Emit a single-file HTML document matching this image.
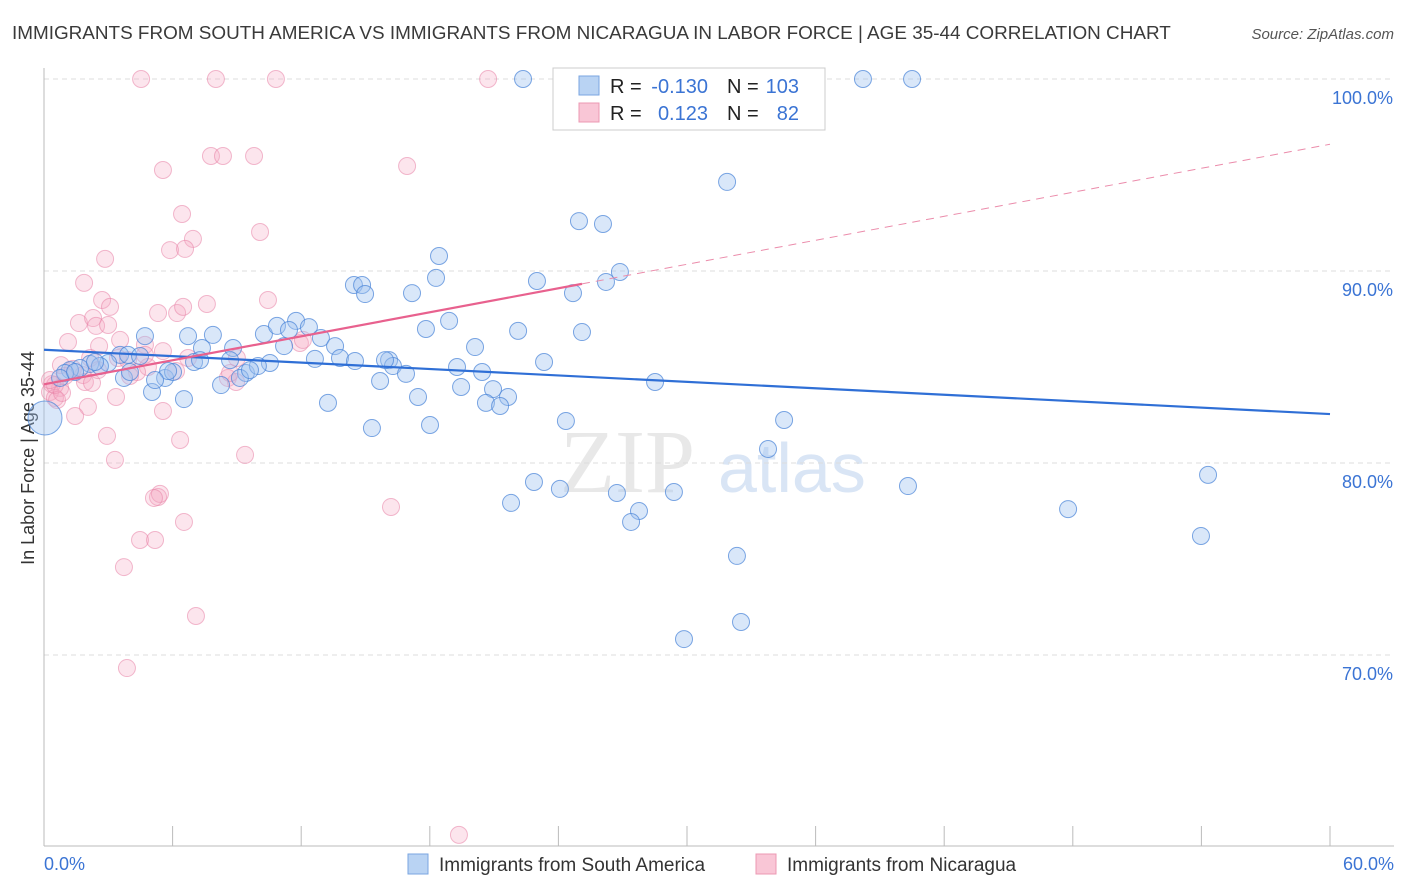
<!DOCTYPE html>
<html><head><meta charset="utf-8"><style>
body{margin:0;background:#fff;font-family:"Liberation Sans",sans-serif;}
#w{position:relative;width:1406px;height:892px;overflow:hidden;}
</style></head><body>
<div id="w">
<svg id="s" width="1406" height="892" style="position:absolute;left:0;top:0">
<text x="12" y="39" font-size="18.9" fill="#3a3a3a">IMMIGRANTS FROM SOUTH AMERICA VS IMMIGRANTS FROM NICARAGUA IN LABOR FORCE | AGE 35-44 CORRELATION CHART</text>
<text x="1394" y="39" font-size="15" fill="#555" font-style="italic" text-anchor="end">Source: ZipAtlas.com</text>
<text x="0" y="0" transform="translate(34,458) rotate(-90)" font-size="18" fill="#333" text-anchor="middle">In Labor Force | Age 35-44</text>
<text x="560" y="492" font-size="90" fill="#e8e8e8" font-family="Liberation Serif,serif">ZIP</text>
<text x="718" y="492" font-size="70" fill="#d9e5f5">atlas</text>
<g id="grid"></g><g id="pts"></g><g id="lines"></g>
<g>
<rect x="553" y="68" width="272" height="62" fill="#fff" stroke="#ccc"/>
<rect x="579" y="76" width="20" height="19" fill="#b9d3f3" stroke="#7aa6e0"/>
<rect x="579" y="103" width="20" height="19" fill="#f9c6d6" stroke="#ec98b3"/>
<text x="610" y="93" font-size="20" fill="#222">R =</text>
<text x="708" y="93" font-size="20" fill="#3b74d4" text-anchor="end">-0.130</text>
<text x="727" y="93" font-size="20" fill="#222">N =</text>
<text x="799" y="93" font-size="20" fill="#3b74d4" text-anchor="end">103</text>
<text x="610" y="120" font-size="20" fill="#222">R =</text>
<text x="708" y="120" font-size="20" fill="#3b74d4" text-anchor="end">0.123</text>
<text x="727" y="120" font-size="20" fill="#222">N =</text>
<text x="799" y="120" font-size="20" fill="#3b74d4" text-anchor="end">82</text>
</g>
<g>
<rect x="408" y="854" width="20" height="20" fill="#b9d3f3" stroke="#7aa6e0"/>
<text x="439" y="871" font-size="19" fill="#333">Immigrants from South America</text>
<rect x="756" y="854" width="20" height="20" fill="#f9c6d6" stroke="#ec98b3"/>
<text x="787" y="871" font-size="19" fill="#333">Immigrants from Nicaragua</text>
</g>
<text x="44" y="870" font-size="18" fill="#3b74d4">0.0%</text>
<text x="1394" y="870" font-size="18" fill="#3b74d4" text-anchor="end">60.0%</text>
</svg>
</div>
<script>
const yTicks=[100,90,80,70];
const blueX=[],blueY=[],pinkX=[],pinkY=[];
const bluePx=[[523,79],[628,79],[863,79],[912,79],[727,182],[579,221],[603,224],[439,256],[620,272],[606,282],[537,281],[354,285],[362,285],[365,294],[412,293],[436,278],[573,293],[449,321],[426,329],[518,331],[582,332],[475,347],[544,362],[264,334],[296,321],[277,326],[289,330],[309,327],[321,338],[335,346],[145,336],[188,336],[213,335],[202,348],[233,348],[284,346],[315,359],[340,358],[355,361],[389,360],[393,366],[406,374],[385,360],[457,367],[482,372],[380,381],[461,387],[493,389],[508,397],[486,403],[500,406],[418,397],[328,403],[372,428],[430,425],[566,421],[784,420],[768,449],[655,382],[184,399],[152,392],[221,385],[165,378],[173,372],[246,373],[240,378],[124,378],[194,362],[270,363],[258,366],[168,371],[120,355],[108,363],[90,364],[80,368],[70,370],[65,373],[60,378],[534,482],[511,503],[560,489],[617,493],[639,511],[631,522],[674,492],[908,486],[1208,475],[1068,509],[1201,536],[737,556],[741,622],[684,639],[128,355],[100,366],[140,356],[200,360],[250,370],[230,360],[130,372],[155,380],[75,372],[95,362]];
const pinkPx=[[141,79],[216,79],[276,79],[488,79],[211,156],[223,156],[254,156],[407,166],[163,170],[182,214],[260,232],[193,239],[170,250],[185,249],[105,259],[84,283],[102,300],[110,307],[158,313],[177,313],[183,307],[207,304],[268,300],[79,323],[93,318],[96,326],[108,325],[68,342],[99,346],[145,345],[163,351],[118,358],[90,358],[128,360],[237,358],[148,367],[61,365],[73,369],[137,372],[65,376],[83,375],[130,376],[228,378],[236,382],[85,382],[92,383],[60,388],[52,384],[50,392],[55,398],[57,400],[116,397],[88,407],[75,416],[163,411],[107,436],[180,440],[115,460],[245,455],[158,497],[160,494],[154,498],[391,507],[184,522],[140,540],[155,540],[124,567],[196,616],[127,668],[459,835],[300,343],[303,340],[176,371],[145,355],[55,385],[62,393],[120,340],[98,370],[230,373],[50,380],[188,358]];
bluePx.forEach(p=>{blueX.push(+((p[0]-44)/1286*60).toFixed(2));blueY.push(+(100-(p[1]-79)/19.2).toFixed(2));});
pinkPx.forEach(p=>{pinkX.push(+((p[0]-44)/1286*60).toFixed(2));pinkY.push(+(100-(p[1]-79)/19.2).toFixed(2));});
const blueLine=[85.9,82.55];
const pinkLine=[84.1,96.6];
const pinkSolidEnd=25.1;
const X=v=>44+v/60*1286, Y=v=>79+(100-v)*19.2;
const NS='http://www.w3.org/2000/svg';
function mk(t,a,p){const e=document.createElementNS(NS,t);for(const k in a)e.setAttribute(k,a[k]);p.appendChild(e);return e;}
const g=document.getElementById('grid');
mk('line',{x1:44,y1:79,x2:1394,y2:79,stroke:'#ddd','stroke-dasharray':'5,4'},g);
yTicks.forEach(t=>{
const l=mk('line',{x1:44,y1:Y(t),x2:1394,y2:Y(t),stroke:'#ddd','stroke-dasharray':'5,4'},g);


const tx=mk('text',{x:1393,y:Y(t)+25,'font-size':18,fill:'#3b74d4','text-anchor':'end'},g);
tx.textContent=t.toFixed(1)+'%';


});
mk('line',{x1:44,y1:68,x2:44,y2:846,stroke:'#bbb'},g);
mk('line',{x1:44,y1:846,x2:1394,y2:846,stroke:'#bbb'},g);
for(let i=0;i<=10;i++){const t=mk('line',{x1:X(i*6),y1:826,x2:X(i*6),y2:846,stroke:'#bbb'},g);

}
const pg=document.getElementById('pts');
pinkX.forEach((x,i)=>{const c=mk('circle',{cx:X(x),cy:Y(pinkY[i]),r:8.5,fill:'rgba(244,170,196,0.3)',stroke:'rgba(232,130,165,0.55)','stroke-width':1},pg);

});
blueX.forEach((x,i)=>{const c=mk('circle',{cx:X(x),cy:Y(blueY[i]),r:8.5,fill:'rgba(160,196,240,0.4)',stroke:'rgba(70,130,215,0.7)','stroke-width':1},pg);

});
const big=mk('circle',{cx:45,cy:418,r:17,fill:'rgba(160,196,240,0.4)',stroke:'rgba(70,130,215,0.7)'},pg);


const lg=document.getElementById('lines');
const bl=mk('line',{x1:X(0),y1:Y(blueLine[0]),x2:X(60),y2:Y(blueLine[1]),stroke:'#2f6fd6','stroke-width':2.2},lg);


const pv=x=>pinkLine[0]+(pinkLine[1]-pinkLine[0])*x/60;
const pl=mk('line',{x1:X(0),y1:Y(pv(0)),x2:X(pinkSolidEnd),y2:Y(pv(pinkSolidEnd)),stroke:'#e8618e','stroke-width':2.2},lg);


const pd=mk('line',{x1:X(pinkSolidEnd),y1:Y(pv(pinkSolidEnd)),x2:X(60),y2:Y(pv(60)),stroke:'#eb8cab','stroke-width':1,'stroke-dasharray':'8,6'},lg);


</script>
</body></html>
